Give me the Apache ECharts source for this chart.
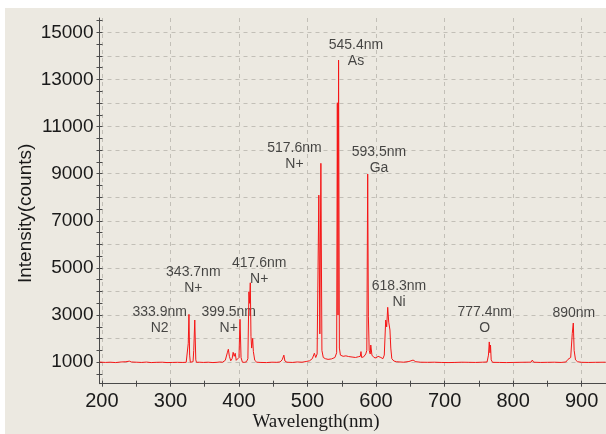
<!DOCTYPE html>
<html><head><meta charset="utf-8">
<script src="https://cdn.jsdelivr.net/npm/echarts@6/dist/echarts.min.js"></script>
<style>html,body{margin:0;padding:0;background:#fff}#c{width:606px;height:434px}</style>
</head><body><div id="c"></div>
<script>
// Spectrum trace (wavelength nm, intensity counts)
const wavelength = [197,205,212,220,228,235,240,243,250,258,265,272,280,288,295,303,310,318,323,325,326,327,328,329,331,333,334,335.5,337,338,342,348,355,362,368,372,376,380,383,384.5,386,388,390,391.5,393,394.5,396,398,400,401.5,403,405,408,411,413,414.5,415.5,416.5,417.5,418.5,420,421,423,426,432,440,448,455,460,463,465.5,467,470,478,485,492,498,503,507,510,512,514,515,516.5,518,519.5,521,523,526,530,535,540,542.5,543.5,544.5,545.3,546.5,548,552,556,560,565,570,574,577,578,579,582,585,586.5,587.8,588.8,590,591.5,592.3,594,597,600,603,604.6,607,610,612,614.1,615.5,617,618.5,620.3,621.5,623,626,630,640,648,654,658,665,675,685,695,705,715,725,735,745,755,762,764,765.2,766.2,767,768,770,780,790,800,810,820,826,828,830,840,850,860,870,877,880,884,886.3,887.8,889,891,894,900,910,920,935];
const intensity = [1005,990,1000,985,1010,1020,1045,1010,1000,990,1005,985,995,1000,985,990,995,990,995,1010,1800,3030,1300,1000,990,1020,1500,2790,1100,995,1000,990,1000,985,995,1010,1000,1080,1400,1550,1250,1060,1150,1420,1250,1380,1080,1030,1200,2820,1200,1000,995,1020,1150,3990,3500,4370,2100,1600,2010,1450,1080,1000,990,985,1000,995,1010,1100,1300,1050,1000,990,1010,1000,1030,1060,1150,1380,1200,1350,1400,8090,2200,9440,1500,1200,1150,1120,1140,1200,1400,12010,3000,13820,1600,1300,1250,1270,1240,1220,1200,1230,1250,1450,1200,1230,1350,1500,8985,2930,1500,1350,1730,1300,1200,1180,1250,1306,1200,1150,1300,2790,2500,3330,2700,2366,1600,1150,1050,1020,1000,1030,1090,1020,1000,995,1000,990,985,990,1000,995,990,1000,1010,1300,1860,1400,1730,1100,995,990,985,990,995,1000,1000,1090,1000,990,995,1000,990,1010,1120,1200,2225,2663,1500,1100,1020,995,990,995,1000];

const xTicks = [200,300,400,500,600,700,800,900];
const xHalfTicks = [250,350,450,550,650,750,850];
const yTicks = [1000,2000,3000,4000,5000,6000,7000,8000,9000,10000,11000,12000,13000,14000,15000];
const yLabels = [1000,3000,5000,7000,9000,11000,13000,15000];
const yHalfTicks = [500,1500,2500,3500,4500,5500,6500,7500,8500,9500,10500,11500,12500,13500,14500,15500];

// Peak annotations (anchor in data units, text)
const annWave = [284.3,333.4,385.1,429.5,481,570.7,604.3,633.5,758.6,888.5];
const annInt  = [2778,4475,2769,4857,9736,14130,9570,3902,2769,3075];
const annText = ['333.9nm\nN2','343.7nm\nN+','399.5nm\nN+','417.6nm\nN+','517.6nm\nN+','545.4nm\nAs','593.5nm\nGa','618.3nm\nNi','777.4nm\nO','890nm'];

const FONT = 'Liberation Sans, Arial, sans-serif';
const AX = '#4a4a4a';
const X_MIN = 196.5, X_MAX = 935.5, Y_MIN = 88, Y_MAX = 15607;

function tickAxis(kind, vals, inside) {
  return {
    type: 'value', min: kind === 'x' ? X_MIN : Y_MIN, max: kind === 'x' ? X_MAX : Y_MAX,
    position: kind === 'x' ? 'bottom' : 'left',
    axisLine: {show: false, onZero: false},
    axisTick: {show: true, customValues: vals, inside: inside, length: 3, lineStyle: {color: AX}},
    axisLabel: {show: false}, splitLine: {show: false}
  };
}

const chart = echarts.init(document.getElementById('c'), null, {renderer: 'canvas'});
chart.setOption({
  animation: false,
  backgroundColor: '#ffffff',
  graphic: [{type: 'rect', left: 5, top: 8, z: -10, shape: {width: 601, height: 426}, style: {fill: '#ECE9E1'}}],
  grid: {left: 99.5, top: 18, width: 506.5, height: 365.7, containLabel: false, outerBoundsMode: 'none'},
  xAxis: [{
    type: 'value', min: X_MIN, max: X_MAX, position: 'bottom',
    axisLine: {show: true, onZero: false, lineStyle: {color: AX, width: 1}},
    axisTick: {show: true, customValues: xTicks, length: 3, lineStyle: {color: AX}},
    axisLabel: {customValues: xTicks, fontSize: 20, color: '#1a1a1a', margin: 8, fontFamily: FONT, formatter: v => String(v)},
    splitLine: {show: true, lineStyle: {type: [4, 4], color: '#c2bfb7', width: 1}},
    name: 'Wavelength(nm)', nameLocation: 'middle', nameGap: 29, nameMoveOverlap: false,
    nameTextStyle: {fontFamily: 'Liberation Serif, Times New Roman, serif', fontSize: 19, color: '#1a1a1a', padding: [0, 73.5, 0, 0]}
  }, tickAxis('x', xTicks.concat(xHalfTicks), true), tickAxis('x', xHalfTicks, false)],
  yAxis: [{
    type: 'value', min: Y_MIN, max: Y_MAX, position: 'left',
    axisLine: {show: true, onZero: false, lineStyle: {color: AX, width: 1}},
    axisTick: {show: true, customValues: yTicks, length: 3, lineStyle: {color: AX}},
    axisLabel: {customValues: yLabels, fontSize: 19, color: '#1a1a1a', margin: 6, fontFamily: FONT, formatter: v => String(v)},
    splitLine: {show: true, lineStyle: {type: [4, 4], color: '#c2bfb7', width: 1}},
    name: 'Intensity(counts)', nameLocation: 'middle', nameGap: 64, nameRotate: 90, nameMoveOverlap: false,
    nameTextStyle: {fontFamily: FONT, fontSize: 19, color: '#1a1a1a', padding: [0, 25, 0, 0]}
  }, tickAxis('y', yTicks.concat(yHalfTicks), true), tickAxis('y', yHalfTicks, false)],
  series: [{
    type: 'line', xAxisIndex: 0, yAxisIndex: 0, showSymbol: false, silent: true,
    lineStyle: {color: '#f51616', width: 1},
    data: wavelength.map((w, i) => [w, intensity[i]])
  }, {
    type: 'scatter', xAxisIndex: 0, yAxisIndex: 0, symbolSize: 1, silent: true,
    itemStyle: {color: 'rgba(0,0,0,0)'},
    label: {show: true, position: 'inside', formatter: p => p.data[2], fontSize: 14, lineHeight: 16,
      color: '#1a1a1a', fontFamily: FONT, align: 'center'},
    data: annWave.map((w, i) => [w, annInt[i], annText[i]])
  }]
});
</script></body></html>
